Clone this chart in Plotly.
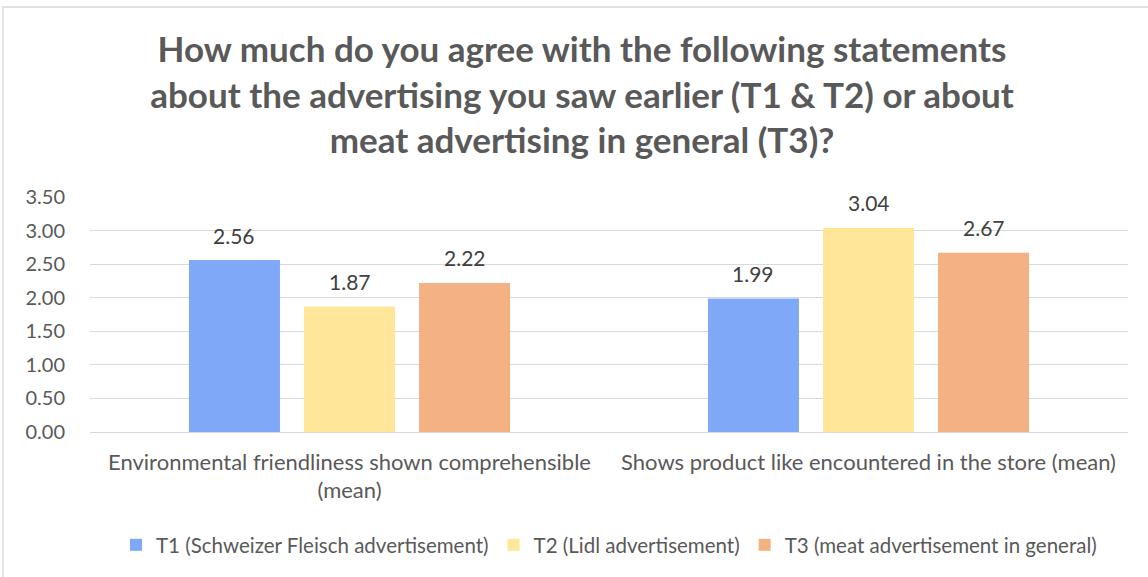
import plotly.graph_objects as go

categories = ["Environmental friendliness shown comprehensible<br>(mean)",
              "Shows product like encountered in the store (mean)"]
series_names = ["T1 (Schweizer Fleisch advertisement)",
                "T2 (Lidl advertisement)",
                "T3 (meat advertisement in general)"]
t1_values = [2.56, 1.99]
t2_values = [1.87, 3.04]
t3_values = [2.22, 2.67]
colors = ["#80A8F8", "#FFE699", "#F4B183"]
y_ticks = [0, 0.5, 1.0, 1.5, 2.0, 2.5, 3.0, 3.5]

FONT = "Lato, Calibri, 'Open Sans', sans-serif"

L, R, T, B = 90, 20, 197, 145
W, H = 1148, 577
pw = W - L - R
ph = H - T - B
BARGAP = 0.335
BARGROUPGAP = 0.209
slot = pw / len(categories) * (1 - BARGAP) / 3

all_series = [t1_values, t2_values, t3_values]

fig = go.Figure()
for name, vals, col in zip(series_names, all_series, colors):
    fig.add_trace(go.Bar(
        x=categories, y=vals, name=name, marker=dict(color=col, line=dict(width=0)),
        cliponaxis=False,
    ))

annotations = []
for j, vals in enumerate(all_series):
    for i, v in enumerate(vals):
        annotations.append(dict(
            x=categories[i], y=v, xref="x", yref="y", text=f"{v:.2f}",
            showarrow=False, xshift=(j - 1) * slot, yshift=25,
            yanchor="middle", xanchor="center",
            font=dict(size=21, color="#404040", family=FONT),
        ))

fig.update_layout(
    width=W, height=H,
    margin=dict(l=L, r=R, t=T, b=B),
    paper_bgcolor="white", plot_bgcolor="white",
    font=dict(family=FONT, color="#595959"),
    title=dict(
        text="<b>How much do you agree with the following statements<br>about the advertising you saw earlier (T1 &amp; T2) or about<br>meat advertising in general (T3)?</b>",
        x=582 / W, xanchor="center", y=1 - 62 / H, yanchor="top",
        font=dict(size=35, color="#595959", family=FONT),
    ),
    barmode="group", bargap=BARGAP, bargroupgap=BARGROUPGAP,
    showlegend=True,
    legend=dict(orientation="h", x=0.5, xanchor="center", y=-(545 - 432) / ph, yanchor="middle",
                font=dict(size=20.5, color="#595959", family=FONT), traceorder="normal",
                itemwidth=30),
    yaxis=dict(range=[0, 3.5], tickvals=y_ticks, ticktext=[f"{v:.2f}" for v in y_ticks],
               showgrid=True, gridcolor="#D9D9D9", gridwidth=1.3, zeroline=False,
               showline=False, tickfont=dict(size=20, color="#595959", family=FONT),
               ticks="", ticklabelstandoff=24),
    xaxis=dict(showline=True, linecolor="#D9D9D9", linewidth=1.3, ticks="",
               tickfont=dict(size=22, color="#595959", family=FONT), ticklabelstandoff=10),
    annotations=annotations,
    shapes=[dict(type="rect", xref="paper", yref="paper",
                 x0=(3 - L) / pw, x1=(1160 - L) / pw,
                 y0=(ph + T - 590) / ph, y1=(ph + T - 7) / ph,
                 line=dict(color="#D9D9D9", width=1.3), fillcolor="rgba(0,0,0,0)", layer="below")],
)

fig.write_html("out.html", config={"displayModeBar": False},
               post_script="document.body.style.margin='0';document.body.style.overflow='hidden';")
